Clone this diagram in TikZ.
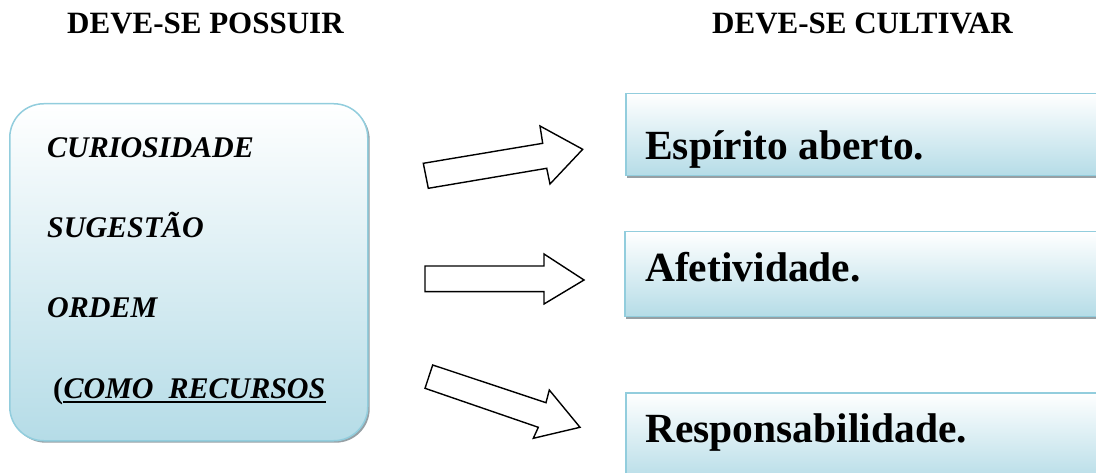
\documentclass[tikz,border=0pt]{standalone}
\usepackage{fontspec}
\setmainfont{Liberation Serif}
\definecolor{boxblue}{RGB}{181,220,231}
\definecolor{edgeblue}{RGB}{146,205,221}
\definecolor{shadowgray}{RGB}{150,160,165}
\tikzset{
  leftbox/.style={draw=edgeblue, line width=1.5pt, rounded corners=34pt, top color=white, bottom color=boxblue, minimum width=358pt, minimum height=337pt, anchor=north west, inner sep=0pt},
  leftshadow/.style={fill=shadowgray, rounded corners=34pt, minimum width=358pt, minimum height=337pt, anchor=north west, inner sep=0pt},
  rightbox/.style={draw=edgeblue, line width=1.5pt, top color=white, bottom color=boxblue, minimum width=500pt, anchor=north west, inner sep=0pt},
  rightshadow/.style={fill=shadowgray, minimum width=500pt, anchor=north west, inner sep=0pt},
  header/.style={anchor=base west, inner sep=0pt, font=\fontsize{31}{31}\selectfont\bfseries},
  lefttext/.style={anchor=base west, inner sep=0pt, font=\fontsize{30}{30}\selectfont\bfseries\itshape},
  righttext/.style={anchor=base west, inner sep=0pt, font=\fontsize{41.5}{41.5}\selectfont\bfseries},
  blockarrow/.style={draw=black, line width=1.4pt, fill=white, line join=miter}
}
\begin{document}
\begin{tikzpicture}[x=1pt,y=-1pt]
\useasboundingbox (0,0) rectangle (1096,473);
% headers
\node[header] (h1) at (67,34) {DEVE-SE POSSUIR};
\node[header] (h2) at (712,34) {DEVE-SE CULTIVAR};
% left box
\node[leftshadow] (lbs) at (11.5,105.5) {};
\node[leftbox] (lb) at (9,103) {};
\node[lefttext] (t1) at (47,158) {CURIOSIDADE};
\node[lefttext] (t2) at (47,238) {SUGESTÃO};
\node[lefttext] (t3) at (47,318) {ORDEM};
\node[lefttext, font=\fontsize{30}{30}\selectfont\bfseries] (t4a) at (53,398) {(};
\node[lefttext, anchor=base west] (t4) at (t4a.base east) {COMO\hspace{15pt}RECURSOS};
\draw[line width=2pt] ([yshift=-4pt]t4.base west) -- ([yshift=-4pt]t4.base east);
% right boxes (clipped by the page edge)
\begin{scope}
\clip (0,0) rectangle (1096,473);
\node[rightshadow, minimum height=82pt] (r1s) at (627,96) {};
\node[rightbox, minimum height=82pt] (r1) at (625,93) {};
\node[rightshadow, minimum height=85pt] (r2s) at (626,234) {};
\node[rightbox, minimum height=85pt] (r2) at (624,231) {};
\node[rightbox, minimum height=90pt] (r3) at (625,392) {};
\end{scope}
\node[righttext] (s1) at (645,160) {Espírito aberto.};
\node[righttext] (s2) at (645,282) {Afetividade.};
\node[righttext] (s3) at (645,442) {Responsabilidade.};
% block arrows
\draw[blockarrow] (423.3,163.3) -- (428.3,188.3) -- (546.7,168.3) -- (550,184) -- (582.7,149.3) -- (540,126) -- (542.7,143.3) -- cycle;
\draw[blockarrow] (425,266) -- (425,291.7) -- (544,291.7) -- (544,304) -- (584,280) -- (544,254) -- (544,266) -- cycle;
\draw[blockarrow] (432.7,365) -- (425,388.3) -- (538.3,427.3) -- (533.3,438.3) -- (580,427.3) -- (549.3,390) -- (546,402.7) -- cycle;
\end{tikzpicture}
\end{document}
